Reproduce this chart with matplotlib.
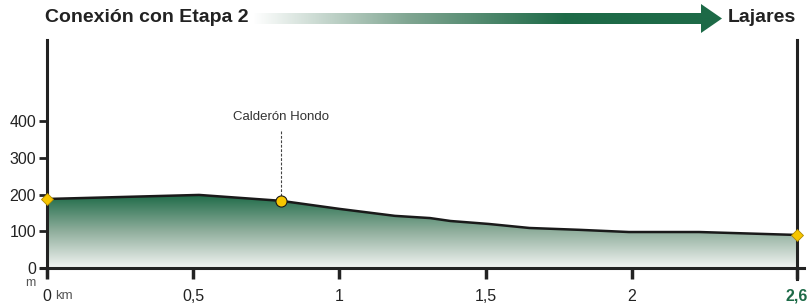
import numpy as np
import matplotlib.pyplot as plt
from matplotlib.colors import LinearSegmentedColormap
from matplotlib.patches import Polygon

plt.rcParams['font.family'] = ['Liberation Sans', 'DejaVu Sans']

# profile data (km, m)
dist_km = [0.0, 0.52, 0.80, 1.0, 1.19, 1.31, 1.38, 1.51, 1.65, 1.82, 1.99, 2.23, 2.565]
elev_m = [188, 199, 183, 161, 142, 136, 128, 120, 109, 104, 98, 98, 90]

poi_name = "Calderón Hondo"
poi_km = 0.80
poi_m = 183

x_ticks = [0, 0.5, 1, 1.5, 2, 2.565]
x_labels = ["0", "0,5", "1", "1,5", "2", "2,6"]
y_ticks = [0, 100, 200, 300, 400]

start_name = "Conexión con Etapa 2"
end_name = "Lajares"

GREEN = '#1d6a47'
YELLOW = '#f7c600'

fig = plt.figure(figsize=(8.08, 3.05), dpi=100)
W, H = 808, 305
ax = fig.add_axes([47 / W, 37 / H, 750 / W, 228 / H])
ax.set_xlim(0, 2.565)
ax.set_ylim(0, 621)

# gradient fill under the profile
cmap = LinearSegmentedColormap.from_list('g', ['#f2f4f2', '#8fae9c', GREEN])
grad = np.linspace(0, 1, 256).reshape(-1, 1)
im = ax.imshow(grad, extent=[0, 2.565, 0, 200], origin='lower', aspect='auto',
               cmap=cmap, zorder=1)
verts = np.column_stack([dist_km + dist_km[::-1], elev_m + [0] * len(elev_m)])
clip = Polygon(verts, closed=True, transform=ax.transData, facecolor='none', edgecolor='none')
ax.add_patch(clip)
im.set_clip_path(clip)
ax.plot(dist_km, elev_m, color='#1a1a1a', lw=1.8, zorder=3)

# markers
ax.plot([dist_km[0], dist_km[-1]], [elev_m[0], elev_m[-1]], 'D', color=YELLOW,
        mec='#b08a00', mew=0.6, ms=6, zorder=5, clip_on=False)
ax.plot(poi_km, poi_m, 'o', color=YELLOW, mec='#1a1a1a', mew=0.8, ms=8, zorder=5)
ax.plot([poi_km, poi_km], [poi_m + 12, 375], ls=(0, (2.5, 1.5)), color='#444444', lw=0.8, zorder=4)
ax.text(poi_km, 395, poi_name, ha='center', va='bottom', fontsize=9.5, color='#333333')

# axes styling
ax.spines['top'].set_visible(False)
for s in ['left', 'right', 'bottom']:
    ax.spines[s].set_linewidth(2.2)
    ax.spines[s].set_color('#222222')
ax.spines['bottom'].set_bounds(-0.02, 2.59)
ax.spines['left'].set_bounds(-20, 621)
ax.spines['right'].set_bounds(-30, 621)

ax.set_yticks(y_ticks)
ax.set_yticklabels([str(v) for v in y_ticks], fontsize=11.5, color='#222222')
ax.tick_params(axis='y', length=6, width=2, color='#222222', pad=2)
ax.set_xticks(x_ticks)
ax.set_xticklabels(x_labels, fontsize=11.5, color='#222222')
ax.tick_params(axis='x', length=8, width=2.5, color='#222222', pad=7)
xl = ax.get_xticklabels()
xl[-1].set_color(GREEN)
xl[-1].set_fontweight('bold')
ax.annotate("km", xy=(0, 0), xycoords='data', xytext=(6, -20.5), textcoords='offset points',
            fontsize=9.5, color='#555555', va='center', ha='left')
ax.annotate("m", xy=(0, 0), xycoords='data', xytext=(-12, -11), textcoords='offset points',
            fontsize=9, color='#555555', va='center', ha='center')

# header
hx = fig.add_axes([0, 0, 1, 1], zorder=-1)
hx.axis('off')
hx.text(45, 17, start_name, fontsize=14, fontweight='bold', color='#222222', va='center', ha='left')
hx.text(796, 17, end_name, fontsize=14, fontweight='bold', color='#222222', va='center', ha='right')
arrow = [(253, 13), (701, 13), (701, 4), (722, 18.5), (701, 33), (701, 24), (253, 24)]
ap = Polygon(arrow, closed=True, facecolor='none', edgecolor='none')
hx.add_patch(ap)
acmap = LinearSegmentedColormap.from_list('a', ['#ffffff', '#7fa591', GREEN, GREEN], N=256)
hgrad = np.linspace(0, 1, 256).reshape(1, -1)
aim = hx.imshow(hgrad, extent=[253, 722, 33, 4], aspect='auto', cmap=acmap)
aim.set_clip_path(ap)
hx.set_xlim(0, W)
hx.set_ylim(H, 0)

fig.savefig('out.png', dpi=100)
